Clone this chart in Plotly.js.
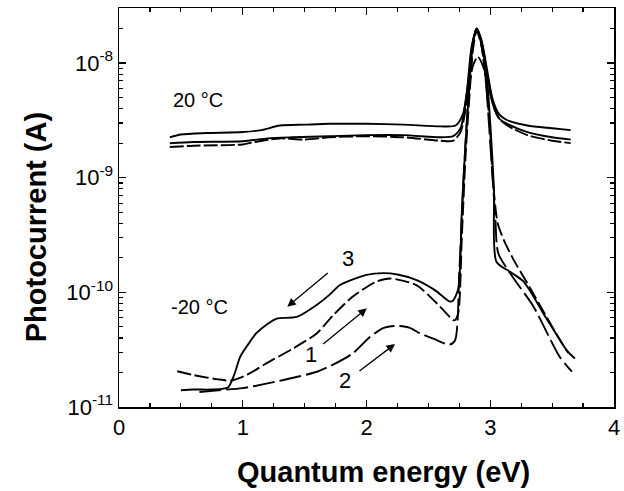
<!DOCTYPE html>
<html>
<head>
<meta charset="utf-8">
<script src="https://cdn.plot.ly/plotly-3.0.1.min.js"></script>
<style>html,body{margin:0;padding:0;background:#fff;}#chart{width:624px;height:491px;}</style>
</head>
<body>
<div id="chart"></div>
<script>
// ---- data ----
// 20 °C curves
const xA = [0.41,0.5,0.7,1.0,1.15,1.3,1.5,1.7,2.0,2.3,2.6,2.72,2.78,2.82,2.86,2.89,2.93,2.97,3.02,3.07,3.13,3.3,3.5,3.65];
const yA = [2.25e-9,2.38e-9,2.45e-9,2.5e-9,2.6e-9,2.85e-9,2.9e-9,2.95e-9,2.95e-9,2.9e-9,2.8e-9,2.85e-9,3.6e-9,6.5e-9,1.55e-8,2.0e-8,1.58e-8,9.3e-9,4.8e-9,3.6e-9,3.2e-9,2.85e-9,2.7e-9,2.6e-9];
const xB = [0.41,0.6,1.0,1.2,1.4,1.7,2.0,2.3,2.6,2.7,2.76,2.81,2.85,2.89,2.93,2.97,3.02,3.07,3.15,3.3,3.5,3.65];
const yB = [2.0e-9,2.05e-9,2.08e-9,2.2e-9,2.25e-9,2.3e-9,2.35e-9,2.35e-9,2.25e-9,2.3e-9,2.7e-9,5.5e-9,1.4e-8,1.9e-8,1.5e-8,8.5e-9,4.4e-9,3.3e-9,2.9e-9,2.5e-9,2.25e-9,2.15e-9];
const xC = [0.41,0.6,1.0,1.1,1.3,1.5,1.7,2.0,2.3,2.6,2.7,2.76,2.81,2.86,2.9,2.94,2.98,3.03,3.08,3.15,3.3,3.5,3.65];
const yC = [1.85e-9,1.9e-9,1.95e-9,2.05e-9,2.2e-9,2.15e-9,2.25e-9,2.3e-9,2.25e-9,2.1e-9,2.1e-9,2.5e-9,4.5e-9,9.5e-9,1.13e-8,9.5e-9,6.5e-9,4.2e-9,3.2e-9,2.8e-9,2.35e-9,2.1e-9,2.0e-9];
// -20 °C curves
const x1 = [0.47,0.6,0.79,0.9,1.03,1.19,1.41,1.6,1.73,1.89,2.08,2.19,2.4,2.57,2.71,2.74,2.77,2.8,2.83,2.86,2.89,2.93,2.97,3.0,3.02,3.06,3.11,3.19,3.3,3.455,3.62,3.71];
const y1 = [2.05e-11,1.9e-11,1.75e-11,1.7e-11,1.9e-11,2.4e-11,3.25e-11,4.4e-11,6.3e-11,9.2e-11,1.24e-10,1.32e-10,1.16e-10,8e-11,5.7e-11,6.5e-11,3e-10,1.5e-9,4.8e-9,1.3e-8,1.9e-8,1.4e-8,6e-9,2.5e-9,1e-9,4e-10,2.86e-10,1.91e-10,1.2e-10,6.1e-11,3.1e-11,2.5e-11];
const x2 = [0.65,0.8,1.0,1.33,1.6,1.75,1.89,2.03,2.14,2.24,2.35,2.43,2.55,2.67,2.715,2.75,2.78,2.81,2.84,2.87,2.89,2.92,2.96,3.0,3.04,3.065,3.18,3.35,3.56,3.66];
const y2 = [1.35e-11,1.4e-11,1.46e-11,1.72e-11,2.03e-11,2.4e-11,2.94e-11,4.1e-11,4.9e-11,5.1e-11,4.9e-11,4.4e-11,3.9e-11,3.5e-11,3.8e-11,1.5e-10,8e-10,3e-9,9e-9,1.7e-8,2.0e-8,1.6e-8,8e-9,2e-9,4.6e-10,2.19e-10,1.37e-10,7.5e-11,2.75e-11,2.03e-11];
const x3 = [0.5,0.6,0.75,0.88,0.93,0.98,1.05,1.11,1.2,1.274,1.436,1.6,1.7,1.786,2.0,2.136,2.25,2.405,2.55,2.674,2.7,2.742,2.77,2.8,2.83,2.86,2.89,2.93,2.97,3.0,3.03,3.05,3.16,3.27,3.45,3.63];
const y3 = [1.4e-11,1.42e-11,1.42e-11,1.48e-11,1.9e-11,2.75e-11,3.6e-11,4.4e-11,5.3e-11,5.9e-11,6.1e-11,7.8e-11,9.5e-11,1.16e-10,1.42e-10,1.47e-10,1.43e-10,1.28e-10,1.05e-10,8.3e-11,8.5e-11,1.08e-10,5e-10,2e-9,6e-9,1.5e-8,2.0e-8,1.5e-8,8e-9,3e-9,8e-10,1.85e-10,1.51e-10,1.24e-10,6e-11,2.96e-11];

const yTickVals = [1e-11,1e-10,1e-9,1e-8];
const yTickText = ['10<sup>-11</sup>','10<sup>-10</sup>','10<sup>-9</sup>','10<sup>-8</sup>'];
const xTickVals = [0,1,2,3,4];
const xTickText = ['0','1','2','3','4'];

// minor ticks: log 2..9 per decade, and every 0.25 eV between integers
const yMinor = [];
for (let e = -11; e <= -8; e++) for (let m = 2; m <= 9; m++) yMinor.push(m * Math.pow(10, e));
const xMinor = [];
for (let i = 0; i < 4; i++) for (const f of [0.25, 0.5, 0.75]) xMinor.push(i + f);

const ln = (dash) => ({color:'#000', width:1.9, dash:dash, shape:'spline', smoothing:0.7});
const traces = [
  {x:xA, y:yA, mode:'lines', line:ln('solid'), name:'20 A'},
  {x:xB, y:yB, mode:'lines', line:ln('solid'), name:'20 B'},
  {x:xC, y:yC, mode:'lines', line:ln('14px,3px'), name:'20 C'},
  {x:x1, y:y1, mode:'lines', line:ln('14px,4px'), name:'-20 1'},
  {x:x2, y:y2, mode:'lines', line:ln('22px,5px'), name:'-20 2'},
  {x:x3, y:y3, mode:'lines', line:ln('solid'), name:'-20 3'},
  {x:[], y:[], xaxis:'x2', yaxis:'y2', mode:'lines', hoverinfo:'skip'}
];

const lf = {family:'Liberation Sans, Arial, sans-serif', size:22, color:'#000'};
const ann = [
  {x:0.64, y:-8.323, text:'20 °C', showarrow:false, font:{...lf, size:20}},
  {x:0.65, y:-10.125, text:'-20 °C', showarrow:false, font:{...lf, size:20}},
  {x:1.853, y:-9.703, text:'3', showarrow:false, font:lf},
  {x:1.549, y:-10.538, text:'1', showarrow:false, font:lf},
  {x:1.826, y:-10.765, text:'2', showarrow:false, font:lf},
  {x:1.36, y:-10.125, ax:42, ay:-35, text:'', showarrow:true, arrowhead:2, arrowsize:1.3, arrowwidth:1.3, arrowcolor:'#000'},
  {x:2.002, y:-10.139, ax:-45, ay:37, text:'', showarrow:true, arrowhead:2, arrowsize:1.3, arrowwidth:1.3, arrowcolor:'#000'},
  {x:2.23, y:-10.451, ax:-37, ay:28, text:'', showarrow:true, arrowhead:2, arrowsize:1.3, arrowwidth:1.3, arrowcolor:'#000'},
  {xref:'paper', yref:'paper', x:0.535, y:-0.163, xanchor:'center', yanchor:'middle', text:'<b>Quantum energy (eV)</b>', showarrow:false, font:{...lf, size:29}},
  {xref:'paper', yref:'paper', x:-0.166, y:0.45, xanchor:'center', yanchor:'middle', textangle:-90, text:'<b>Photocurrent (A)</b>', showarrow:false, font:{...lf, size:29}}
];

const axBase = {showline:true, linecolor:'#000', linewidth:1.5, showgrid:false, zeroline:false, ticks:'inside', tickcolor:'#000'};
const layout = {
  width:624, height:491,
  margin:{l:119, r:10, t:8, b:84},
  paper_bgcolor:'#fff', plot_bgcolor:'#fff',
  showlegend:false,
  font:lf,
  xaxis:{...axBase, range:[0,4], tickvals:xTickVals, ticktext:xTickText, ticklen:7, tickwidth:1.4, mirror:'allticks', tickfont:lf},
  yaxis:{...axBase, type:'log', range:[-11,-7.52], tickvals:yTickVals, ticktext:yTickText, ticklen:7, tickwidth:1.4, mirror:'allticks', tickfont:lf},
  xaxis2:{...axBase, overlaying:'x', anchor:'y2', range:[0,4], tickmode:'array', tickvals:xMinor, ticklen:4, tickwidth:1.2, mirror:'ticks', showticklabels:false},
  yaxis2:{...axBase, overlaying:'y', anchor:'x2', type:'log', range:[-11,-7.52], tickmode:'array', tickvals:yMinor, ticklen:4, tickwidth:1.2, mirror:'ticks', showticklabels:false},
  annotations:ann
};

Plotly.newPlot('chart', traces, layout, {staticPlot:true, displayModeBar:false});
</script>
</body>
</html>
